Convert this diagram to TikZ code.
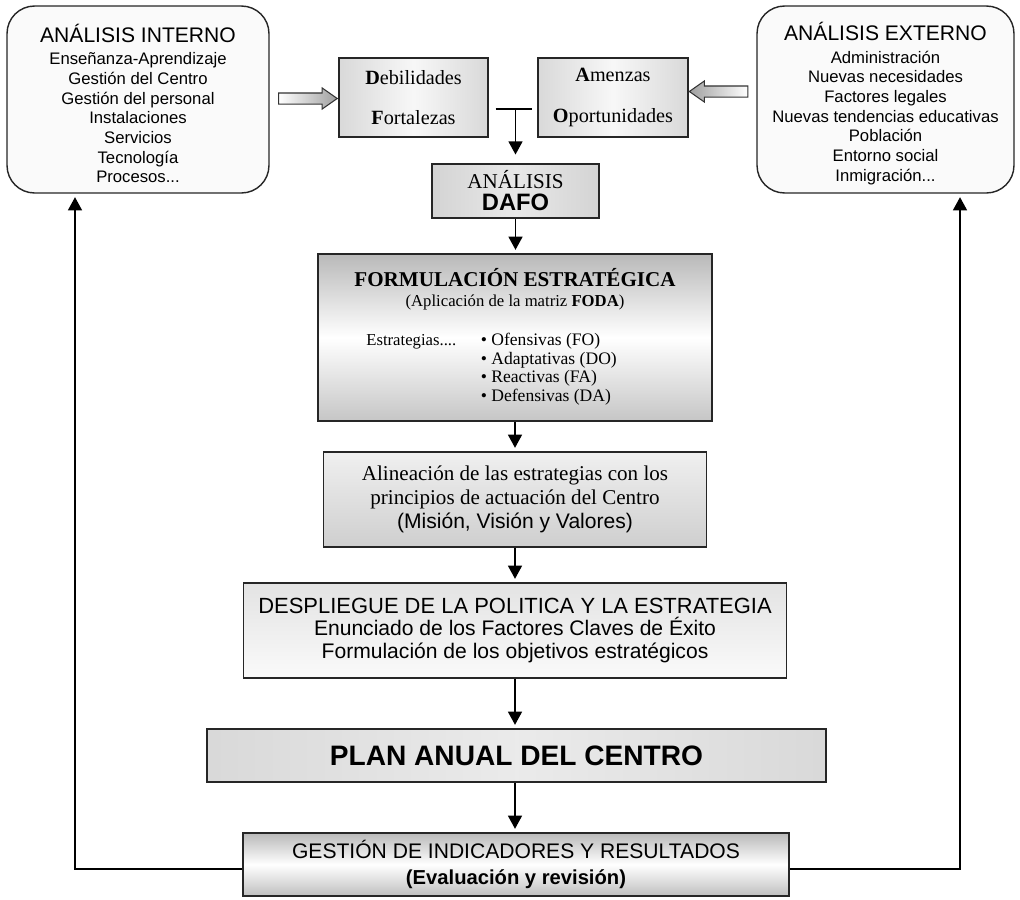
\documentclass[tikz,border=0pt]{standalone}
\usepackage{fontspec}
\setmainfont{Liberation Serif}
\setsansfont{Liberation Sans}
\usepackage{tikz}
\usetikzlibrary{shapes.arrows}
\usetikzlibrary{arrows.meta}
\usetikzlibrary{calc}

\tikzset{
    box/.style = {draw = black!85, line width = .8pt, inner sep = 0pt, align = center},
    bigbox/.style = {box, rounded corners = .55cm, fill = gray!4,
        font = \sffamily\fontsize{9.5}{11.2}\selectfont},
    fatarrow/.style = {single arrow, draw = black!80, line width = .6pt, inner sep = .1cm,
        minimum height = 1.17cm, single arrow head extend = .1cm, single arrow tip angle = 70},
    flecha/.style = {->, line width = .8pt, shorten > = 2pt}
}

\begin{document}
\begin{tikzpicture}[x = .02cm, y = -.02cm, >= {Triangle[width = 8pt, length = 7.5pt]}]
                \useasboundingbox (0,0) rectangle (1020,899);

                % Draw the internal and external analysis:
                \node [bigbox, minimum width = 5.24cm, minimum height = 3.74cm] (interno) at (138,99.5)
                    {\rule{0pt}{15pt}{\fontsize{12}{14}\selectfont ANÁLISIS INTERNO}\\[1.5pt]
                     Enseñanza-Aprendizaje\\ Gestión del Centro\\ Gestión del personal\\
                     Instalaciones\\ Servicios\\ Tecnología\\ Procesos...};
                \node [bigbox, minimum width = 5.14cm, minimum height = 3.74cm] (externo) at (885.5,99.5)
                    {\rule{0pt}{15pt}{\fontsize{12}{14}\selectfont ANÁLISIS EXTERNO}\\[1.5pt]
                     Administración\\ Nuevas necesidades\\ Factores legales\\
                     Nuevas tendencias educativas\\ Población\\ Entorno social\\ Inmigración...};

                % Draw the DAFO boxes:
                \node [box, left color = gray!30, right color = gray!30, middle color = gray!6,
                    minimum width = 2.98cm, minimum height = 1.58cm,
                    font = \fontsize{11.5}{23}\selectfont] (debil) at (413.5,97.5)
                    {\textbf{D}ebilidades\\ \textbf{F}ortalezas};
                \node [box, left color = gray!30, right color = gray!30, middle color = gray!6,
                    minimum width = 3cm, minimum height = 1.58cm,
                    font = \fontsize{11.5}{23}\selectfont] (amen) at (613,97.5)
                    {\textbf{A}menzas\\ \textbf{O}portunidades};

                \node [fatarrow, left color = white, right color = gray!75] (flechaI)
                    at ($(interno.east)!.5!(debil.west)$) {};
                \node [fatarrow, shape border rotate = 180, left color = gray!75, right color = white] (flechaE)
                    at ($(amen.east)!.5!(externo.west) + (0,-7)$) {};

                \node [box, left color = gray!34, right color = gray!34, middle color = gray!18,
                    minimum width = 3.34cm, minimum height = 1.08cm,
                    font = \fontsize{12}{12}\selectfont] (dafo) at (515.5,191)
                    {ANÁLISIS\\[.5pt] {\sffamily\bfseries\fontsize{13.5}{14}\selectfont DAFO}};

                \draw [line width = .8pt] ([xshift = .14cm, yshift = -.23cm]debil.east)
                    -- ([xshift = -.1cm, yshift = -.23cm]amen.west);
                \coordinate (union) at (dafo.north |- 0,109);
                \draw [flecha, shorten > = 5pt] (union) -- (dafo.north);

                % Draw the strategy formulation:
                \node [box, top color = gray!55, bottom color = gray!45, middle color = white,
                    minimum width = 7.88cm, minimum height = 3.34cm] (formul) at (515,337.5) {};
                \node [font = \fontsize{12}{14}\selectfont\bfseries] (formtit) at (515,278)
                    {FORMULACIÓN ESTRATÉGICA};
                \node [font = \fontsize{9.5}{11}\selectfont] (formsub) at (515,302)
                    {(Aplicación de la matriz \textbf{FODA})};
                \node [anchor = north west, inner sep = 0pt, font = \fontsize{10}{10.6}\selectfont] (estr) at (366,332)
                    {\begin{tabular}{@{}l@{\hspace{14pt}}l@{}}
                     {\fontsize{9.5}{10.6}\selectfont Estrategias....} & \textbullet\ Ofensivas (FO)\\
                      & \textbullet\ Adaptativas (DO)\\
                      & \textbullet\ Reactivas (FA)\\
                      & \textbullet\ Defensivas (DA)
                     \end{tabular}};

                \node [box, top color = gray!12, bottom color = gray!38,
                    minimum width = 7.66cm, minimum height = 1.9cm,
                    font = \fontsize{12}{13.6}\selectfont] (alin) at (515,499.5)
                    {Alineación de las estrategias con los\\ principios de actuación del Centro\\
                     {\sffamily (Misión, Visión y Valores)}};

                \node [box, top color = gray!22, bottom color = gray!4,
                    minimum width = 10.86cm, minimum height = 1.9cm,
                    font = \sffamily\fontsize{12}{12.8}\selectfont] (despl) at (515,630.5)
                    {{\fontsize{12.5}{13}\selectfont DESPLIEGUE DE LA POLITICA Y LA ESTRATEGIA}\\
                     Enunciado de los Factores Claves de Éxito\\ Formulación de los objetivos estratégicos};

                \node [box, left color = gray!30, right color = gray!30, middle color = gray!16,
                    minimum width = 12.38cm, minimum height = 1.06cm,
                    font = \sffamily\bfseries\fontsize{16}{18}\selectfont] (plan) at (516.5,755.5)
                    {PLAN ANUAL DEL CENTRO};

                \node [box, top color = gray!55, bottom color = gray!50, middle color = white,
                    minimum width = 10.92cm, minimum height = 1.26cm,
                    font = \sffamily\fontsize{12}{14.8}\selectfont] (gest) at (516,864.5)
                    {GESTIÓN DE INDICADORES Y RESULTADOS\\
                     {\bfseries\fontsize{11.5}{14.8}\selectfont (Evaluación y revisión)}};

                % Draw the flow between the boxes:
                \draw [flecha] (dafo.south) -- (dafo.south |- formul.north);
                \draw [flecha] (formul.south) -- (formul.south |- alin.north);
                \draw [flecha] (alin.south) -- (alin.south |- despl.north);
                \draw [flecha] (despl.south) -- (despl.south |- plan.north);
                \draw [flecha] (despl.south |- plan.south) -- (despl.south |- gest.north);

                % Draw the feedback loops:
                \draw [flecha] ([yshift = -.09cm]gest.west) -| (interno.south -| 75,0);
                \draw [flecha] ([yshift = -.09cm]gest.east) -| (externo.south -| 960,0);
            \end{tikzpicture}
\end{document}
